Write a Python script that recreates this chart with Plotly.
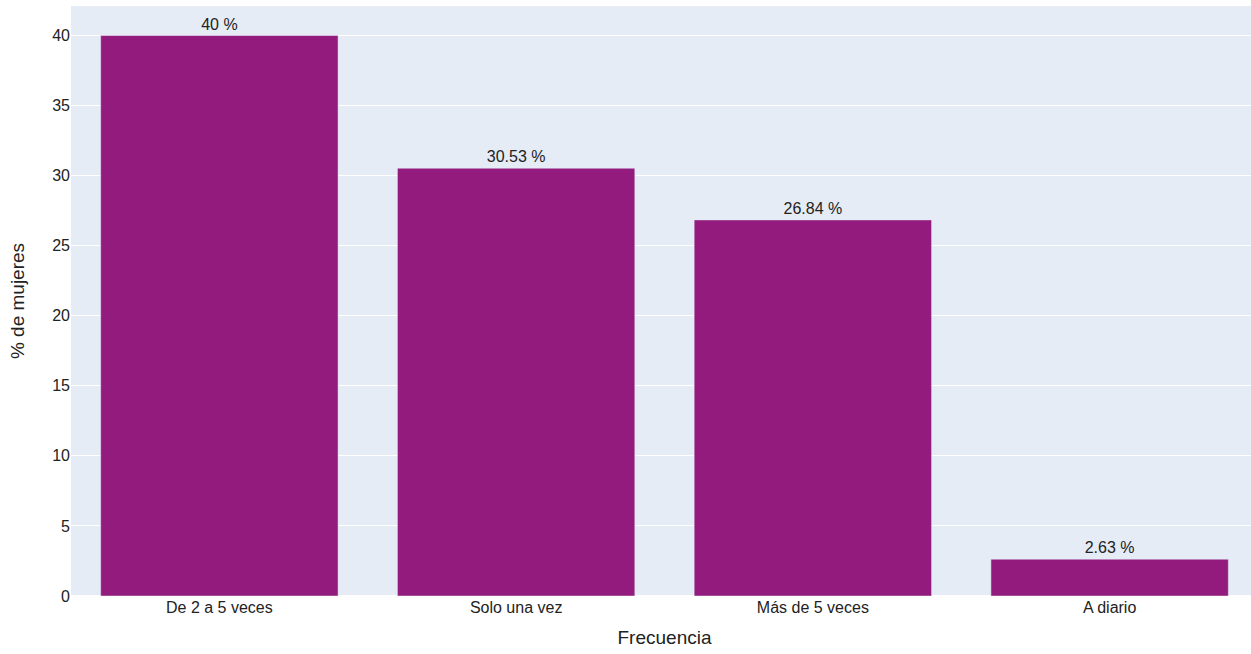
import plotly.graph_objects as go

categories = ["De 2 a 5 veces", "Solo una vez", "Más de 5 veces", "A diario"]
values = [40, 30.53, 26.84, 2.63]

fig = go.Figure(
    go.Bar(
        x=categories,
        y=values,
        marker_color="#941B7E",
        texttemplate="%{y} %",
        textposition="outside",
        cliponaxis=False,
    )
)

fig.update_layout(
    template="plotly",
    width=1258,
    height=654,
    autosize=False,
    font=dict(family="Liberation Sans, Arial, sans-serif", size=16, color="#222222"),
    margin=dict(l=71, r=0, t=6, b=58),
    xaxis_title="Frecuencia",
    yaxis=dict(title=dict(text="% de mujeres", standoff=22)),
    showlegend=False,
)

fig.write_html(
    "out.html",
    config={"displayModeBar": False},
    post_script="document.body.style.margin='0';document.body.style.overflow='hidden';",
)
